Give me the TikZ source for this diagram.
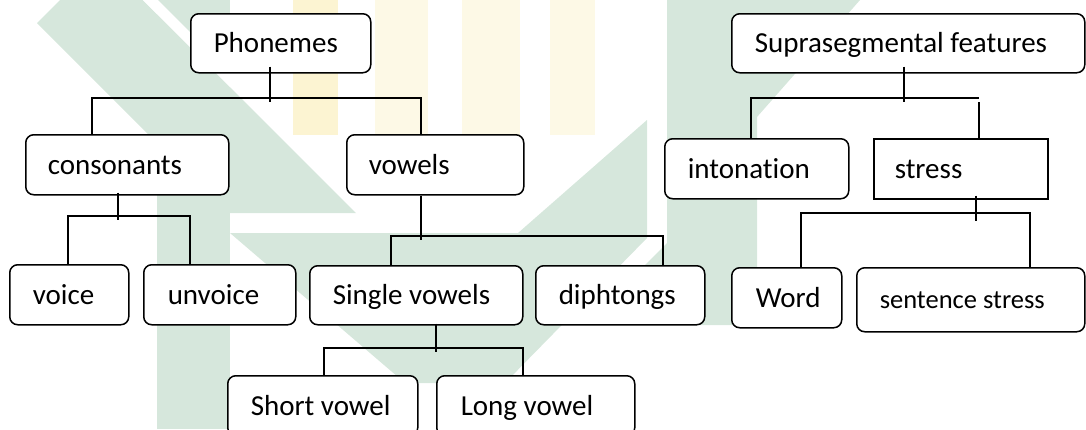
\documentclass[tikz,border=0pt]{standalone}
\usepackage{fontspec}
\setmainfont{Carlito}[Ligatures={NoCommon,NoDiscretionary,NoRare,NoContextual}]
\usetikzlibrary{calc}
\definecolor{wmgreen}{RGB}{214,231,220}
\definecolor{wmyellow}{RGB}{252,244,210}
\definecolor{wmyellowf}{RGB}{253,249,230}
\tikzset{
  bx/.style={draw=black, line width=1.5pt, rounded corners=8pt, fill=white,
    anchor=north west, inner xsep=0pt, inner ysep=0pt,
    text height=18.7pt, text depth=0pt,
    font=\fontsize{29}{34}\selectfont},
  sq/.style={bx, sharp corners},
  ln/.style={draw=black, line width=1.3pt},
}
\newcommand{\lbox}[3]{\makebox[#1pt][l]{\hspace*{#2pt}#3}}
\begin{document}
\begin{tikzpicture}[x=1pt,y=-1pt]
\path[use as bounding box] (0,0) rectangle (1086,429);
\clip (0,0) rectangle (1086,429);
% watermark
\fill[wmyellow] (293,0) rectangle (338,135);
\fill[wmyellowf] (375,0) rectangle (428,135);
\fill[wmyellowf] (462,0) rectangle (520,135);
\fill[wmyellowf] (550,0) rectangle (595,135);
\fill[wmgreen] (37,23) -- (60,0) -- (143,0) -- (356,213) -- (227,213) -- cycle;
\fill[wmgreen] (157,0) rectangle (230,429);
\fill[white] (143,0) -- (158,0) -- (245,87) -- (230,87) -- cycle;
\fill[wmgreen] (230,233) -- (518,233) -- (647,120) -- (647,238) -- (505,383) -- (405,383) -- cycle;
\fill[wmgreen] (667,0) -- (757,0) -- (757,325) -- (585,325) -- (667,243) -- cycle;
\fill[wmgreen] (757,0) -- (860,0) -- (757,117) -- cycle;
% boxes
\node[bx, minimum height=59pt] (P)  at (190,13)  {\lbox{180}{23}{Phonemes}};
\node[bx, minimum height=59pt] (Su) at (731,13)  {\lbox{353}{23}{Suprasegmental features}};
\node[bx, minimum height=60pt] (C)  at (25,134)  {\lbox{203}{22}{consonants}};
\node[bx, minimum height=60pt] (V)  at (346,134) {\lbox{177}{22}{vowels}};
\node[bx, minimum height=60pt] (I)  at (664,138) {\lbox{184}{23}{intonation}};
\node[sq, minimum height=60pt] (St) at (873,138) {\lbox{174}{21}{stress}};
\node[bx, minimum height=60pt] (Vo) at (9,264)   {\lbox{119}{23}{voice}};
\node[bx, minimum height=60pt] (Un) at (143,264) {\lbox{152}{24}{unvoice}};
\node[bx, minimum height=59pt] (S)  at (309,265) {\lbox{213}{23}{Single vowels}};
\node[bx, minimum height=59pt] (D)  at (535,265) {\lbox{169}{23}{diphtongs}};
\node[bx, minimum height=60pt] (W)  at (731,267) {\lbox{110}{24}{Word}};
\node[bx, minimum height=64pt, text height=17pt, font=\fontsize{26.5}{31}\selectfont] (Se) at (856,267) {\lbox{228}{23}{sentence stress}};
\node[bx, minimum height=60pt] (Sh) at (227,375) {\lbox{190}{23}{Short vowel}};
\node[bx, minimum height=60pt] (L)  at (436,375) {\lbox{198}{24}{Long vowel}};
% connectors
\draw[ln] ([xshift=80pt,yshift=7pt]P.south west) -- ++(0,35);
\draw[ln] ([xshift=67pt]C.north west) -- ++(0,-36) -| ([xshift=75pt]V.north west);
\draw[ln] ([xshift=93pt,yshift=3pt]C.south west) -- ++(0,27);
\draw[ln] ([xshift=59pt]Vo.north west) -- ++(0,-48) -| ([xshift=47pt]Un.north west);
\draw[ln] ([xshift=75pt]V.south west) -- ++(0,44);
\draw[ln] ([xshift=82pt]S.north west) -- ++(0,-29) -| ([xshift=128pt]D.north west);
\draw[ln] ([xshift=127pt,yshift=2pt]S.south west) -- ++(0,28);
\draw[ln] ([xshift=97pt]Sh.north west) -- ++(0,-27) -| ([xshift=87pt]L.north west);
\draw[ln] ([xshift=173pt,yshift=7pt]Su.south west) -- ++(0,35);
\draw[ln] ([xshift=87pt]I.north west) -- ++(0,-40) -- ++(228,0);
\draw[ln] ([xshift=106pt]St.north west) -- ++(0,-36);
\draw[ln] ([xshift=103pt,yshift=4pt]St.south west) -- ++(0,25);
\draw[ln] ([xshift=70pt]W.north west) -- ++(0,-54) -| ([xshift=174pt]Se.north west);
\end{tikzpicture}
\end{document}
